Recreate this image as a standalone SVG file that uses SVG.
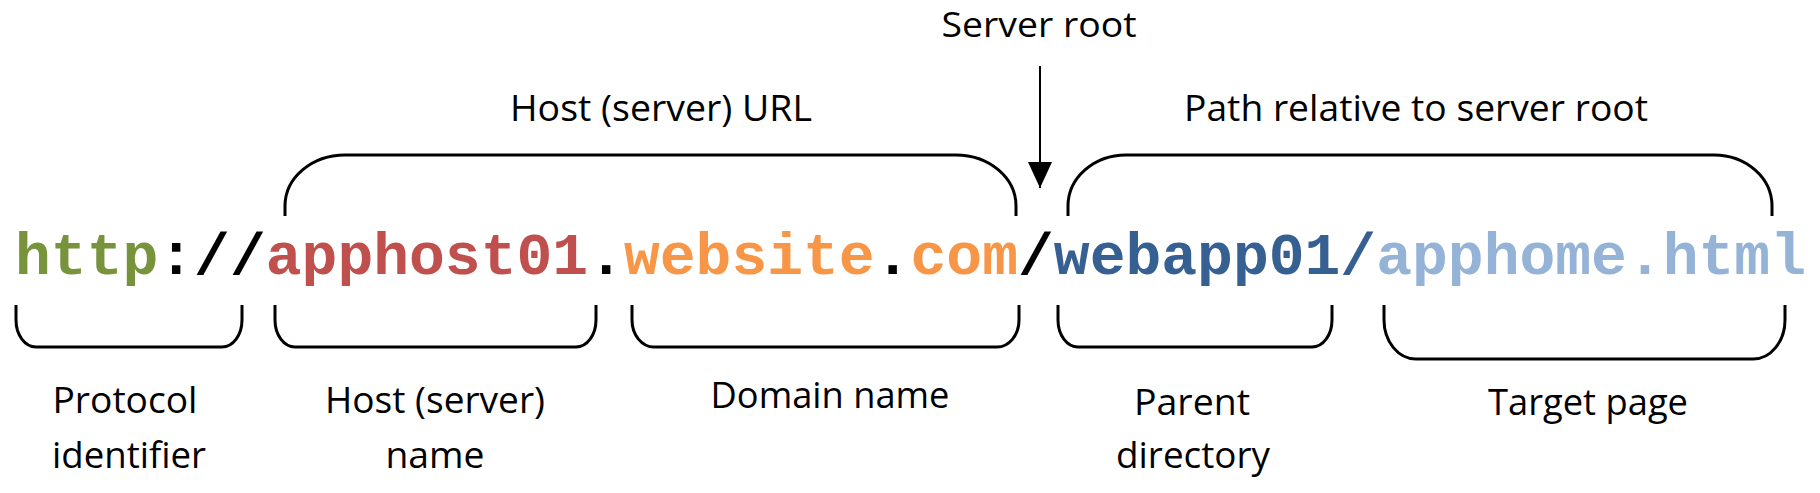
<svg xmlns="http://www.w3.org/2000/svg" width="1820" height="493" viewBox="0 0 1820 493">
<style>
.lbl{font-family:"Open Sans","Liberation Sans",sans-serif;font-size:36px;fill:#000;text-anchor:middle}
.br{fill:none;stroke:#000;stroke-width:3}
.url{font-family:"Liberation Mono","DejaVu Sans Mono",monospace;font-weight:bold;font-size:59.7px}
</style>
<defs>
<marker id="ah" markerUnits="userSpaceOnUse" markerWidth="28" markerHeight="26" refX="26" refY="13" orient="auto" viewBox="0 0 28 26">
<path d="M0,1 L26,13 L0,25 Z" fill="#000"/>
</marker>
</defs>
<rect width="1820" height="493" fill="#fff"/>

<g id="url">
<text class="url" x="15" y="274"><tspan fill="#77933C">http</tspan><tspan fill="#000">://</tspan><tspan fill="#C0504D">apphost01</tspan><tspan fill="#000">.</tspan><tspan fill="#F79646">website</tspan><tspan fill="#000">.</tspan><tspan fill="#F79646">com</tspan><tspan fill="#000">/</tspan><tspan fill="#376092">webapp01/</tspan><tspan fill="#95B3D7">apphome.html</tspan></text>
</g>

<g id="server-root">
<text class="lbl" x="1039" y="37" style="font-size:35px" textLength="195" lengthAdjust="spacingAndGlyphs">Server root</text>
</g>

<g id="host-url">
<path class="br" d="M285,216 V206 A60,51 0 0 1 345,155 H956 A60,51 0 0 1 1016,206 V216"/>
<text class="lbl" x="661" y="121" textLength="302" lengthAdjust="spacingAndGlyphs">Host (server) URL</text>
</g>

<g id="path-relative">
<path class="br" d="M1068,216 V206 A58,51 0 0 1 1126,155 H1714 A58,51 0 0 1 1772,206 V216"/>
<text class="lbl" x="1416" y="121" textLength="464" lengthAdjust="spacingAndGlyphs">Path relative to server root</text>
</g>

<g id="protocol">
<path class="br" d="M16,305 V320 A20,27 0 0 0 36,347 H222 A20,27 0 0 0 242,320 V305"/>
<text class="lbl" x="125" y="413" textLength="145" lengthAdjust="spacingAndGlyphs">Protocol</text>
<text class="lbl" x="129" y="468" textLength="154" lengthAdjust="spacingAndGlyphs">identifier</text>
</g>

<g id="host-name">
<path class="br" d="M275,305 V320 A20,27 0 0 0 295,347 H576 A20,27 0 0 0 596,320 V305"/>
<text class="lbl" x="435" y="413" textLength="220" lengthAdjust="spacingAndGlyphs">Host (server)</text>
<text class="lbl" x="435" y="468" textLength="99" lengthAdjust="spacingAndGlyphs">name</text>
</g>

<g id="domain-name">
<path class="br" d="M632,305 V320 A22,27 0 0 0 654,347 H997 A22,27 0 0 0 1019,320 V305"/>
<text class="lbl" x="830" y="408" textLength="239" lengthAdjust="spacingAndGlyphs">Domain name</text>
</g>

<g id="parent-directory">
<path class="br" d="M1058,305 V320 A20,27 0 0 0 1078,347 H1312 A20,27 0 0 0 1332,320 V305"/>
<text class="lbl" x="1192" y="415" textLength="116" lengthAdjust="spacingAndGlyphs">Parent</text>
<text class="lbl" x="1193" y="468" textLength="154" lengthAdjust="spacingAndGlyphs">directory</text>
</g>

<g id="target-page">
<path class="br" d="M1384,305 V320 A32,39 0 0 0 1416,359 H1753 A32,39 0 0 0 1785,320 V305"/>
<text class="lbl" x="1588" y="415" textLength="200" lengthAdjust="spacingAndGlyphs">Target page</text>
</g>

<g id="connectors">
<line x1="1040" y1="66" x2="1040" y2="188" stroke="#000" stroke-width="2" marker-end="url(#ah)"/>
</g>
</svg>
